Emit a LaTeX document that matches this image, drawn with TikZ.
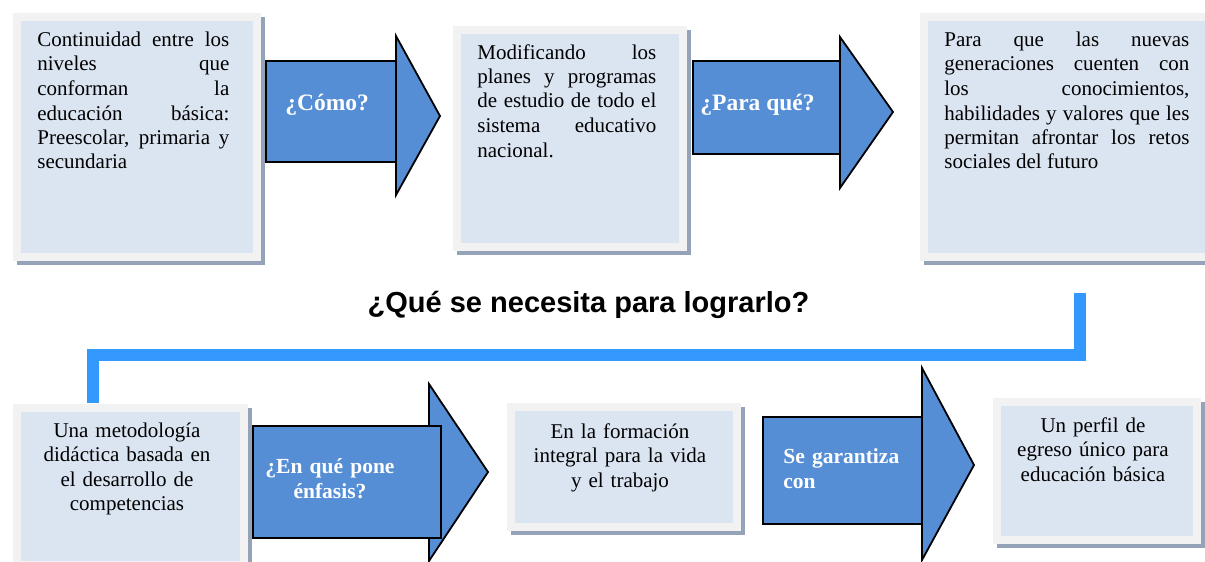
\documentclass[tikz,border=0pt]{standalone}
\usepackage{fontspec}
\setmainfont{Liberation Serif}
\newfontfamily\titlefont{Liberation Sans}
\usetikzlibrary{shadows}
\definecolor{boxblue}{HTML}{DBE5F1}
\definecolor{framegray}{HTML}{F2F2F2}
\definecolor{shadowgray}{HTML}{95A3B8}
\definecolor{arrowblue}{HTML}{558ED5}
\definecolor{linkblue}{HTML}{3399FF}
% one justified line of a given width
\newcommand{\jl}[2]{\makebox[#1][s]{#2}\\}
\begin{document}
\begin{tikzpicture}[x=0.5pt, y=-0.5pt,
  box/.style={fill=boxblue, draw=framegray, line width=4pt, inner sep=0pt, anchor=north west,
    general shadow={fill=shadowgray, draw=shadowgray, line width=4pt, shadow xshift=1.75pt, shadow yshift=-1.75pt}},
  txt/.style={inner sep=0pt, font=\fontsize{10.5}{12.25}\selectfont},
  arrowpart/.style={fill=arrowblue, draw=black, line width=0.9pt, line join=miter},
  lblup/.style={inner sep=0pt, text=white, font=\bfseries\fontsize{11.75}{14}\selectfont},
  lbldn/.style={inner sep=0pt, text=white, font=\bfseries\fontsize{10.75}{12.5}\selectfont},
  link/.style={draw=linkblue, line width=6pt}]
\useasboundingbox (0,0) rectangle (1205,562);

% boxes
\node[box, minimum width=120pt, minimum height=120pt] (b1) at (13,13) {};
\node[box, minimum width=113pt, minimum height=108.5pt] (b2) at (453,26) {};
\node[box, minimum width=145pt, minimum height=120pt] (b3) at (920,13) {};
\node[box, minimum width=113.5pt, minimum height=78.5pt] (b4) at (13,404) {};
\node[box, minimum width=113pt, minimum height=60pt] (b5) at (507,403) {};
\node[box, minimum width=100pt, minimum height=69pt] (b6) at (993,398) {};

% link between the rows
\coordinate (c1) at (1080,293);
\coordinate (m) at (586,355);
\coordinate (c2) at (93,403);
\draw[link] (c1) |- (m) -| (c2);

% arrows
\draw[arrowpart] (396,36) -- (440,116) -- (396,195) -- cycle;
\draw[arrowpart] (266,61) rectangle (396,162);
\draw[arrowpart] (840,37) -- (893,112) -- (840,188) -- cycle;
\draw[arrowpart] (693,61) rectangle (840,154);
\draw[arrowpart] (429,384) -- (488,472) -- (429,561) -- cycle;
\draw[arrowpart] (253,426) rectangle (441,538);
\draw[arrowpart] (922,368) -- (974,465) -- (922,560) -- cycle;
\draw[arrowpart] (763,417) rectangle (922,524);

\node[lblup, anchor=base west] (l1) at (285,110) {¿Cómo?};
\node[lblup, anchor=base west] (l2) at (700,110) {¿Para qué?};
\node[lbldn, text width=70pt, align=center, anchor=base] (l3) at (330,473) {¿En qué pone\\énfasis?};
\node[lbldn, text width=70pt, align=left, anchor=base west] (l4) at (783,463) {Se garantiza\\con};

% texts
\node[txt, text width=96pt, align=justify, anchor=base west] (t1) at (37,46.5) {%
  \jl{96pt}{Continuidad entre los}\jl{96pt}{niveles que}\jl{96pt}{conforman la}%
  \jl{96pt}{educación básica:}\jl{96pt}{Preescolar, primaria y}secundaria};
\node[txt, text width=89.5pt, align=justify, anchor=base west] (t2) at (477,59) {%
  \jl{89.5pt}{Modificando los}\jl{89.5pt}{planes y programas}%
  \jl{89.5pt}{de estudio de todo el}\jl{89.5pt}{sistema educativo}nacional.};
\node[txt, text width=122.5pt, align=justify, anchor=base west] (t3) at (944,46.5) {%
  \jl{122.5pt}{Para que las nuevas}\jl{122.5pt}{generaciones cuenten con}%
  \jl{122.5pt}{los conocimientos,}\jl{122.5pt}{habilidades y valores que les}%
  \jl{122.5pt}{permitan afrontar los retos}sociales del futuro};
\node[txt, text width=105pt, align=center, anchor=base] (t4) at (127,437) {Una metodología\\didáctica basada en\\el desarrollo de\\competencias};
\node[txt, text width=105pt, align=center, anchor=base] (t5) at (620,438) {En la formación\\integral para la vida\\y el trabajo};
\node[txt, text width=95pt, align=center, anchor=base] (t6) at (1093,432) {Un perfil de\\egreso único para\\educación básica};

\node[inner sep=0pt, font=\titlefont\bfseries\fontsize{14.5}{17}\selectfont, anchor=base] (q) at (588.5,312) {¿Qué se necesita para lograrlo?};
\end{tikzpicture}
\end{document}
